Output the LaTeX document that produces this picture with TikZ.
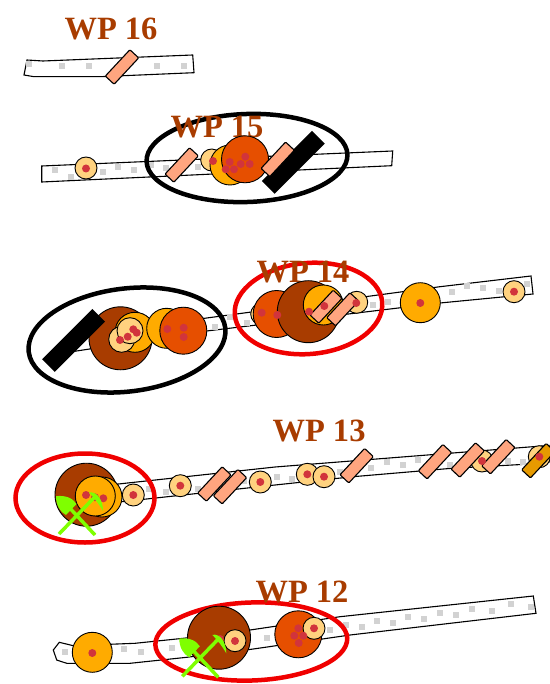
\documentclass[tikz,border=0pt]{standalone}
\usepackage{fontspec}
\setmainfont{Liberation Serif}
\usetikzlibrary{shapes.geometric}
\definecolor{wptext}{HTML}{A83C00}
\definecolor{findlight}{HTML}{FFD27F}
\definecolor{findorange}{HTML}{FFAB00}
\definecolor{finddark}{HTML}{E64F00}
\definecolor{findbrown}{HTML}{A83C00}
\definecolor{finddot}{HTML}{D1343C}
\definecolor{barsalmon}{HTML}{FFA57F}
\definecolor{baramber}{HTML}{E69A00}
\definecolor{toolgreen}{HTML}{7FFF00}
\definecolor{gravelgrey}{HTML}{D2D2D2}
\definecolor{ringred}{HTML}{F00000}
\tikzset{
  wplabel/.style={text=wptext, font=\fontsize{32.5}{32.5}\selectfont\bfseries, inner sep=0pt},
  strip/.style={draw, line width=1.1pt, fill=white},
  gravel/.style={fill=gravelgrey, rectangle, inner sep=0pt, minimum size=6pt},
  light/.style={draw, circle, inner sep=0pt, line width=0.9pt, fill=findlight, minimum size=22pt},
  orange/.style={draw, circle, inner sep=0pt, line width=0.9pt, fill=findorange, minimum size=40pt},
  dark/.style={draw, circle, inner sep=0pt, line width=0.9pt, fill=finddark, minimum size=47pt},
  brown/.style={draw, circle, inner sep=0pt, line width=0.9pt, fill=findbrown, minimum size=63pt},
  dot/.style={fill=finddot, circle, inner sep=0pt, minimum size=8pt},
  bar/.style={draw, rectangle, rounded corners=1pt, inner sep=0pt, line width=1.1pt, fill=barsalmon,
    minimum width=36pt, minimum height=12pt, rotate=47},
  blackbar/.style={fill=black, rectangle, inner sep=0pt, minimum width=71pt, minimum height=18pt, rotate=45},
  ring/.style={draw, ellipse, inner sep=0pt, line width=4.5pt},
  crossedtools/.pic={
    \draw[toolgreen, line width=3.5pt] (0,0) -- (-30,-32);
    \draw[toolgreen, line width=3.5pt] (-36,-1) -- (1.7,-40);
    \fill[toolgreen] (-39,-38.8) .. controls (-30,-40) and (-22,-37) .. (-18.5,-31)
      -- (-29,-20) .. controls (-35,-23) and (-39,-30) .. (-39,-38.8) -- cycle;
    \fill[toolgreen] (-6,-42.5) .. controls (2,-44) and (8,-35) .. (8,-24)
      .. controls (4,-31) and (0,-36) .. (-6,-42.5) -- cycle;
  }
}
\begin{document}
\begin{tikzpicture}[x=1pt, y=-1pt]
  \useasboundingbox (0,0) rectangle (549,684);

  \draw[strip] (27,60) -- (43,61) -- (192.7,55) -- (194,72.7) -- (100,76.7) -- (34,76.7) -- (24,75) -- cycle;
  \foreach \x/\y [count=\i] in {29/64,62/66,89/66,157/66,184/66}
    \node[gravel] (gravel16-\i) at (\x,\y) {};
  \node[wplabel] (label16) at (111,29) {WP 16};
  \node[bar] (bar16) at (122,67) {};

  \draw[strip] (41.7,166) -- (392.7,151) -- (391.7,165.7) -- (41.7,182) -- cycle;
  \foreach \x/\y [count=\i] in {55/170,70.7/177,102.7/172,117.7/166.7,134/170,150.7/165,166/168,197.7/166.7}
    \node[gravel] (gravel15-\i) at (\x,\y) {};
  \node[ring, minimum width=201pt, minimum height=88pt, rotate=2] (ring15) at (247,158) {};
  \node[wplabel] (label15) at (217,127) {WP 15};
  \node[light] (find15a) at (86,168) {};
  \node[light] (find15b) at (211.7,160) {};
  \node[orange] (find15c) at (230,165) {};
  \node[dark] (find15d) at (245,159.3) {};
  \node[blackbar] (black15) at (293.3,162.3) {};
  \node[bar] (bar15a) at (181.7,165) {};
  \node[bar] (bar15b) at (277.7,159.3) {};
  \foreach \x/\y [count=\i] in {86/168.5,213/161,225.7/169.3,229.7/162,234/169.3,240.7/164,245.3/156.7,249.7/164}
    \node[dot] (dot15-\i) at (\x,\y) {};

  \draw[strip] (76,337) -- (206.7,318) -- (440,286.7) -- (531,276) -- (533,294) -- (440,303) -- (206.7,331) -- (70,352) -- cycle;
  \foreach \x/\y [count=\i] in {215/327.3,230/316.7,246.7/323.3,372.7/305,388.3/301.7,451.7/292.3,466.7/286,482.7/288.3,499.3/290.7,527.3/284}
    \node[gravel] (gravel14-\i) at (\x,\y) {};
  \node[ring, minimum width=198pt, minimum height=103pt, rotate=7] (ring14a) at (127,340) {};
  \node[ring, ringred, minimum width=148pt, minimum height=91pt, rotate=5] (ring14b) at (308.5,308.5) {};
  \node[wplabel] (label14) at (303,272) {WP 14};
  \node[brown] (find14a) at (120.5,338.3) {};
  \node[orange] (find14b) at (135,332.3) {};
  \node[light, minimum size=26pt] (find14c) at (121.7,339.3) {};
  \node[light, minimum size=26pt] (find14d) at (130,330.7) {};
  \node[orange] (find14e) at (166.7,328.3) {};
  \node[dark] (find14f) at (183.3,330.7) {};
  \node[light] (find14g) at (261.7,314) {};
  \node[dark] (find14h) at (276.7,314) {};
  \node[light] (find14i) at (356.7,302.3) {};
  \node[brown, minimum size=62pt] (find14j) at (308.3,311.7) {};
  \node[orange] (find14k) at (323.3,305) {};
  \node[orange] (find14l) at (420.3,302.7) {};
  \node[light] (find14m) at (514,291.7) {};
  \node[blackbar] (black14) at (73.6,340.4) {};
  \node[bar, minimum width=34pt] (bar14a) at (326,306.7) {};
  \node[bar, minimum width=34pt] (bar14b) at (342.7,309.3) {};
  \foreach \x/\y [count=\i] in {120/340,127.7/336.7,133.3/329.3,136.7/332.7,167.3/329,183.7/327.7,183.7/337,261.7/312.7,277.3/315,309/311.7,324.3/306,356.3/303,420.3/303,514/291.7}
    \node[dot] (dot14-\i) at (\x,\y) {};

  \draw[strip] (100,486) -- (275,467) -- (541.7,446) -- (549,445.5) -- (549,462) -- (525,464.3) -- (451.7,468.3) -- (353,476.7) -- (275,485) -- (121.7,501.7) -- (100,504) -- cycle;
  \foreach \x/\y [count=\i] in {149/489.3,166/491.7,197.7/489.3,244.3/480.7,276.7/476.7,292.3/479.3,340/471.7,371/468.3,386.7/462.3,402.7/465,418.3/460,450/465,508.3/460.7,523.3/462.3}
    \node[gravel] (gravel13-\i) at (\x,\y) {};
  \node[ring, ringred, minimum width=139pt, minimum height=89pt] (ring13) at (85,498) {};
  \node[wplabel] (label13) at (319,431) {WP 13};
  \node[brown] (find13a) at (86.5,494.7) {};
  \node[orange] (find13b) at (102,497) {};
  \node[orange] (find13c) at (95.3,496) {};
  \node[light] (find13d) at (133.3,495) {};
  \node[light] (find13e) at (180.3,485.7) {};
  \node[light] (find13f) at (260.3,482) {};
  \node[light] (find13g) at (307.3,474.3) {};
  \node[light] (find13h) at (324,476.7) {};
  \node[light] (find13i) at (482,461) {};
  \node[light] (find13j) at (539.3,456.7) {};
  \node[bar] (bar13a) at (214.3,484) {};
  \node[bar] (bar13b) at (230,486.7) {};
  \node[bar] (bar13c) at (356.7,465.7) {};
  \node[bar] (bar13d) at (435,461.7) {};
  \node[bar] (bar13e) at (467.7,460) {};
  \node[bar] (bar13f) at (498.3,456.7) {};
  \node[bar, fill=baramber] (bar13g) at (538.3,460.7) {};
  \foreach \x/\y [count=\i] in {86/495,95/497.3,103.3/498.3,133.3/495,180.3/485.7,260.3/482,307.3/474.3,324/476.7,482/461,539.3/456.7}
    \node[dot] (dot13-\i) at (\x,\y) {};
  \pic (tools13) at (95,535) {crossedtools};

  \draw[strip] (53.3,650) -- (59.3,642.3) -- (73.3,645.7) -- (135,643.3) -- (183.3,638.3) -- (250,630) -- (340,616.7) -- (533.3,596) -- (536,613.3) -- (350,635) -- (253.3,649) -- (186.7,657.3) -- (130,663.3) -- (66.7,663.3) -- (56.7,660) -- cycle;
  \foreach \x/\y [count=\i] in {65/652.3,124/649.3,140.7/652.3,172/648.3,266.7/638.3,330/630,345.7/625,361.7/627.3,377.3/621,393.3/622.7,408.3/617.3,424.3/619.3,440/613.3,456/615,471.7/609,491.7/610.7,510.7/604.3,530.7/607.3}
    \node[gravel] (gravel12-\i) at (\x,\y) {};
  \node[ring, ringred, minimum width=192pt, minimum height=78pt, rotate=2] (ring12) at (251.3,641.5) {};
  \node[wplabel] (label12) at (302,592) {WP 12};
  \node[orange] (find12a) at (92.3,652.3) {};
  \node[brown] (find12b) at (219,637.7) {};
  \node[light] (find12c) at (235,640.7) {};
  \node[dark] (find12d) at (298.3,634.3) {};
  \node[light] (find12e) at (314,628.3) {};
  \foreach \x/\y [count=\i] in {92.3/653,220/639,235/641,298.3/628.3,294.3/635.7,303.3/635.7,298.7/643,314/628.3}
    \node[dot] (dot12-\i) at (\x,\y) {};
  \pic (tools12) at (218.3,677.3) {crossedtools};
\end{tikzpicture}
\end{document}
